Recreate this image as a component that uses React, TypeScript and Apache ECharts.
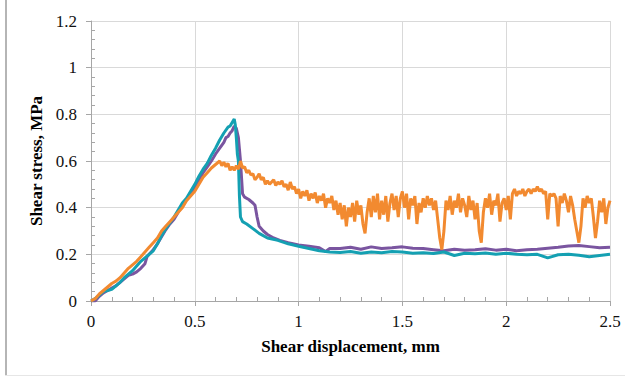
import React, { useEffect, useRef } from "react";
import * as echarts from "echarts";

const xTicks = [0, 0.5, 1, 1.5, 2, 2.5];
const yTicks = [0, 0.2, 0.4, 0.6, 0.8, 1, 1.2];

const orangeData: [number, number][] = [
  [0, 0], [0.02, 0.01], [0.04, 0.03], [0.06, 0.045], [0.08, 0.06], [0.1, 0.075], [0.12, 0.085], [0.14, 0.1],
  [0.16, 0.12], [0.18, 0.14], [0.2, 0.155], [0.22, 0.17], [0.24, 0.19], [0.26, 0.21], [0.28, 0.23], [0.3, 0.25],
  [0.32, 0.27], [0.34, 0.3], [0.36, 0.32], [0.38, 0.34], [0.4, 0.36], [0.42, 0.38], [0.44, 0.4], [0.46, 0.43],
  [0.48, 0.45], [0.5, 0.47], [0.52, 0.5], [0.54, 0.53], [0.56, 0.55], [0.58, 0.57], [0.6, 0.585], [0.62, 0.6],
  [0.63, 0.58], [0.64, 0.595], [0.65, 0.575], [0.66, 0.59], [0.67, 0.56], [0.68, 0.575], [0.69, 0.56], [0.7, 0.58],
  [0.71, 0.565], [0.72, 0.6], [0.73, 0.57], [0.74, 0.575], [0.75, 0.55], [0.76, 0.56], [0.77, 0.54], [0.78, 0.545],
  [0.79, 0.52], [0.8, 0.53], [0.81, 0.545], [0.82, 0.52], [0.83, 0.53], [0.84, 0.5], [0.85, 0.515], [0.86, 0.5],
  [0.87, 0.51], [0.88, 0.52], [0.89, 0.495], [0.9, 0.51], [0.91, 0.5], [0.92, 0.515], [0.93, 0.49], [0.94, 0.5],
  [0.95, 0.475], [0.96, 0.51], [0.97, 0.48], [0.98, 0.49], [0.99, 0.46], [1.0, 0.48], [1.01, 0.44], [1.02, 0.47],
  [1.03, 0.45], [1.04, 0.475], [1.05, 0.43], [1.06, 0.46], [1.07, 0.44], [1.08, 0.465], [1.09, 0.42], [1.1, 0.45],
  [1.11, 0.43], [1.12, 0.46], [1.13, 0.4], [1.14, 0.44], [1.15, 0.42], [1.16, 0.45], [1.17, 0.39], [1.18, 0.43],
  [1.19, 0.37], [1.2, 0.42], [1.21, 0.35], [1.22, 0.41], [1.23, 0.32], [1.24, 0.4], [1.25, 0.36], [1.26, 0.42],
  [1.27, 0.34], [1.28, 0.43], [1.29, 0.37], [1.3, 0.41], [1.31, 0.33], [1.32, 0.29], [1.33, 0.38], [1.34, 0.44],
  [1.35, 0.36], [1.36, 0.45], [1.37, 0.38], [1.38, 0.46], [1.39, 0.35], [1.4, 0.43], [1.41, 0.37], [1.42, 0.45],
  [1.43, 0.34], [1.44, 0.42], [1.45, 0.46], [1.46, 0.39], [1.47, 0.45], [1.48, 0.36], [1.49, 0.44], [1.5, 0.47],
  [1.51, 0.4], [1.52, 0.46], [1.53, 0.35], [1.54, 0.44], [1.55, 0.41], [1.56, 0.45], [1.57, 0.33], [1.58, 0.42],
  [1.59, 0.38], [1.6, 0.44], [1.61, 0.4], [1.62, 0.45], [1.63, 0.41], [1.64, 0.44], [1.65, 0.39], [1.66, 0.43],
  [1.67, 0.35], [1.68, 0.27], [1.69, 0.22], [1.7, 0.3], [1.71, 0.43], [1.72, 0.39], [1.73, 0.45], [1.74, 0.37],
  [1.75, 0.43], [1.76, 0.4], [1.77, 0.46], [1.78, 0.38], [1.79, 0.44], [1.8, 0.41], [1.81, 0.36], [1.82, 0.45],
  [1.83, 0.39], [1.84, 0.43], [1.85, 0.35], [1.86, 0.42], [1.87, 0.3], [1.88, 0.25], [1.89, 0.38], [1.9, 0.44],
  [1.91, 0.4], [1.92, 0.46], [1.93, 0.37], [1.94, 0.43], [1.95, 0.41], [1.96, 0.46], [1.97, 0.34], [1.98, 0.42],
  [1.99, 0.44], [2.0, 0.39], [2.01, 0.45], [2.02, 0.35], [2.03, 0.46], [2.04, 0.48], [2.05, 0.45], [2.06, 0.47],
  [2.07, 0.46], [2.08, 0.48], [2.09, 0.45], [2.1, 0.47], [2.11, 0.48], [2.12, 0.46], [2.13, 0.48], [2.14, 0.47],
  [2.15, 0.49], [2.16, 0.47], [2.17, 0.48], [2.18, 0.46], [2.19, 0.47], [2.2, 0.35], [2.21, 0.46], [2.22, 0.45],
  [2.23, 0.46], [2.24, 0.44], [2.25, 0.32], [2.26, 0.45], [2.27, 0.42], [2.28, 0.46], [2.29, 0.43], [2.3, 0.38],
  [2.31, 0.45], [2.32, 0.41], [2.33, 0.35], [2.34, 0.3], [2.35, 0.25], [2.36, 0.32], [2.37, 0.44], [2.38, 0.4],
  [2.39, 0.45], [2.4, 0.42], [2.41, 0.44], [2.42, 0.36], [2.43, 0.27], [2.44, 0.34], [2.45, 0.43], [2.46, 0.38],
  [2.47, 0.44], [2.48, 0.33], [2.49, 0.4], [2.5, 0.43],
];

const purpleData: [number, number][] = [
  [0, 0], [0.02, 0.0], [0.04, 0.02], [0.06, 0.035], [0.08, 0.045], [0.1, 0.055], [0.12, 0.065], [0.14, 0.08],
  [0.16, 0.095], [0.18, 0.11], [0.2, 0.115], [0.22, 0.125], [0.24, 0.14], [0.26, 0.16], [0.27, 0.19], [0.28, 0.2],
  [0.3, 0.22], [0.32, 0.245], [0.34, 0.275], [0.36, 0.305], [0.38, 0.33], [0.4, 0.35], [0.42, 0.38], [0.44, 0.41],
  [0.46, 0.435], [0.48, 0.46], [0.5, 0.49], [0.52, 0.52], [0.54, 0.55], [0.56, 0.575], [0.58, 0.6], [0.6, 0.63],
  [0.62, 0.655], [0.64, 0.68], [0.65, 0.7], [0.66, 0.705], [0.67, 0.72], [0.68, 0.73], [0.69, 0.75], [0.7, 0.74],
  [0.71, 0.7], [0.72, 0.6], [0.73, 0.46], [0.74, 0.445], [0.76, 0.435], [0.78, 0.42], [0.79, 0.41], [0.8, 0.36],
  [0.81, 0.32], [0.83, 0.3], [0.85, 0.285], [0.88, 0.27], [0.91, 0.26], [0.95, 0.25], [1.0, 0.24], [1.05, 0.235],
  [1.1, 0.228], [1.13, 0.212], [1.15, 0.225], [1.2, 0.225], [1.25, 0.23], [1.3, 0.222], [1.35, 0.232], [1.4, 0.225],
  [1.45, 0.228], [1.5, 0.232], [1.55, 0.226], [1.6, 0.225], [1.65, 0.22], [1.7, 0.215], [1.75, 0.222], [1.8, 0.218],
  [1.85, 0.22], [1.9, 0.224], [1.95, 0.218], [2.0, 0.222], [2.05, 0.215], [2.1, 0.22], [2.15, 0.222], [2.2, 0.226],
  [2.25, 0.23], [2.3, 0.236], [2.35, 0.238], [2.4, 0.233], [2.45, 0.228], [2.5, 0.23],
];

const tealData: [number, number][] = [
  [0, 0], [0.02, 0.01], [0.04, 0.025], [0.06, 0.04], [0.08, 0.045], [0.1, 0.05], [0.12, 0.065], [0.14, 0.08],
  [0.16, 0.1], [0.18, 0.115], [0.2, 0.13], [0.22, 0.15], [0.24, 0.17], [0.26, 0.185], [0.28, 0.2], [0.3, 0.215],
  [0.32, 0.245], [0.34, 0.28], [0.36, 0.31], [0.38, 0.335], [0.4, 0.36], [0.42, 0.39], [0.44, 0.42], [0.46, 0.44],
  [0.48, 0.47], [0.5, 0.5], [0.52, 0.535], [0.54, 0.565], [0.56, 0.59], [0.58, 0.625], [0.6, 0.655], [0.62, 0.69],
  [0.64, 0.72], [0.66, 0.745], [0.67, 0.75], [0.68, 0.765], [0.69, 0.78], [0.695, 0.755], [0.7, 0.7], [0.705, 0.63],
  [0.71, 0.6], [0.715, 0.45], [0.72, 0.36], [0.73, 0.34], [0.75, 0.33], [0.78, 0.31], [0.81, 0.29], [0.85, 0.27],
  [0.9, 0.26], [0.95, 0.245], [1.0, 0.235], [1.05, 0.225], [1.1, 0.215], [1.15, 0.21], [1.2, 0.208], [1.25, 0.212],
  [1.3, 0.205], [1.35, 0.21], [1.4, 0.207], [1.45, 0.212], [1.5, 0.21], [1.55, 0.205], [1.6, 0.207], [1.65, 0.204],
  [1.7, 0.21], [1.75, 0.195], [1.8, 0.205], [1.85, 0.203], [1.9, 0.206], [1.95, 0.2], [2.0, 0.205], [2.05, 0.2],
  [2.1, 0.198], [2.15, 0.2], [2.2, 0.185], [2.25, 0.198], [2.3, 0.2], [2.35, 0.196], [2.4, 0.19], [2.45, 0.195],
  [2.5, 0.2],
];

const FONT = "Liberation Serif";

export default function App() {
  const ref = useRef<HTMLDivElement>(null);
  useEffect(() => {
    if (!ref.current) return;
    const chart = echarts.init(ref.current, undefined, { renderer: "svg" });
    const baseAxis = {
      min: xTicks[0],
      max: xTicks[xTicks.length - 1],
      interval: xTicks[1] - xTicks[0],
    };
    const baseYAxis = {
      min: yTicks[0],
      max: yTicks[yTicks.length - 1],
      interval: yTicks[1] - yTicks[0],
    };
    chart.setOption({
      animation: false,
      backgroundColor: "#ffffff",
      grid: { left: 91, right: 15, top: 21, bottom: 76 },
      graphic: [
        { type: "rect", shape: { x: 5, y: 0, width: 2, height: 376 }, style: { fill: "#b5b5b5" } },
        { type: "line", shape: { x1: 5, y1: 375.5, x2: 625, y2: 375.5 }, style: { stroke: "#e6e6e6", lineWidth: 1 } },
      ],
      xAxis: [
        {
          type: "value",
          ...baseAxis,
          name: "Shear displacement, mm",
          nameLocation: "middle",
          nameGap: 37,
          nameTextStyle: { fontFamily: FONT, fontSize: 17, fontWeight: "bold", color: "#000" },
          axisLine: { show: true, lineStyle: { color: "#a6a6a6", width: 1 } },
          axisTick: { show: true, inside: false, length: 5, lineStyle: { color: "#a6a6a6" } },
          axisLabel: { fontFamily: FONT, fontSize: 17, color: "#111", margin: 12 },
          splitLine: { show: true, lineStyle: { color: "#d9d9d9", width: 1 } },
        },
        {
          type: "value",
          ...baseAxis,
          position: "bottom",
          axisLine: { show: false },
          axisTick: { show: false, inside: true },
          axisLabel: { show: false },
          splitLine: { show: false },
          minorTick: { show: true, splitNumber: 5, length: 4, lineStyle: { color: "#a6a6a6" } },
        },
      ],
      yAxis: [
        {
          type: "value",
          ...baseYAxis,
          name: "Shear stress, MPa",
          nameLocation: "middle",
          nameGap: 41,
          nameTextStyle: { fontFamily: FONT, fontSize: 17, fontWeight: "bold", color: "#000" },
          axisLine: { show: true, lineStyle: { color: "#a6a6a6", width: 1 } },
          axisTick: { show: true, inside: false, length: 5, lineStyle: { color: "#a6a6a6" } },
          axisLabel: { fontFamily: FONT, fontSize: 17, color: "#111", margin: 14 },
          splitLine: { show: true, lineStyle: { color: "#d9d9d9", width: 1 } },
        },
        {
          type: "value",
          ...baseYAxis,
          position: "left",
          axisLine: { show: false },
          axisTick: { show: false, inside: true },
          axisLabel: { show: false },
          splitLine: { show: false },
          minorTick: { show: true, splitNumber: 5, length: 4, lineStyle: { color: "#a6a6a6" } },
        },
      ],
      series: [
        {
          type: "line",
          data: purpleData,
          showSymbol: false,
          lineStyle: { color: "#7a55a0", width: 3 },
          itemStyle: { color: "#7a55a0" },
        },
        {
          type: "line",
          data: tealData,
          showSymbol: false,
          lineStyle: { color: "#14a0b2", width: 3 },
          itemStyle: { color: "#14a0b2" },
        },
        {
          type: "line",
          data: orangeData,
          showSymbol: false,
          lineStyle: { color: "#f28a30", width: 3 },
          itemStyle: { color: "#f28a30" },
        },
      ],
    });
    return () => chart.dispose();
  }, []);
  return (
    <div
      ref={ref}
      style={{ position: "fixed", left: 0, top: 0, width: 625, height: 377 }}
    />
  );
}
